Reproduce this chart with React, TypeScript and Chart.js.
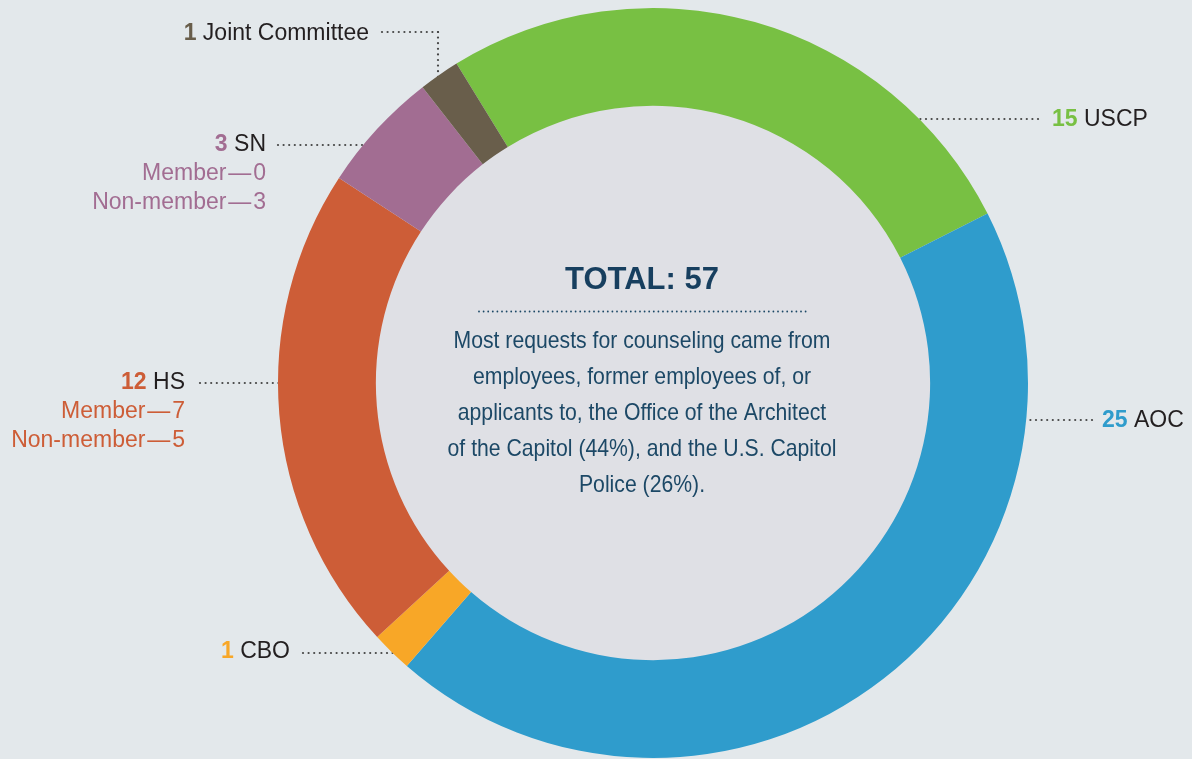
import React, { useEffect, useRef } from "react";
import { Chart, registerables } from "chart.js";

Chart.register(...registerables);

// ---- data ----
const categories = ["USCP", "AOC", "CBO", "HS", "SN", "Joint Committee"];
const counts = [15, 25, 1, 12, 3, 1];
const sliceColors = ["#78c043", "#2f9ccc", "#f8a727", "#cd5d37", "#a26d92", "#695e4b"];
const hsBreakdown = [7, 5]; // Member, Non-member
const snBreakdown = [0, 3]; // Member, Non-member
const breakdownLabels = ["Member", "Non-member"];
const totalTitle = "TOTAL: 57";
const centerLines = [
  "Most requests for counseling came from",
  "employees, former employees of, or",
  "applicants to, the Office of the Architect",
  "of the Capitol (44%), and the U.S. Capitol",
  "Police (26%).",
];

// ---- label layout (positions only) ----
type LabelLayout = {
  idx: number;
  side: "left" | "right";
  x: number; // text anchor x
  y: number; // baseline
  leaderY: number;
  leaderX: number; // leader start x
  elbowX?: number; // vertical leader x
  sub?: number[];
};
const layout: LabelLayout[] = [
  { idx: 0, side: "right", x: 1052, y: 126, leaderY: 119, leaderX: 1038 },
  { idx: 1, side: "right", x: 1102, y: 427, leaderY: 420, leaderX: 1092 },
  { idx: 2, side: "left", x: 290, y: 658, leaderY: 653, leaderX: 303 },
  { idx: 3, side: "left", x: 185, y: 389, leaderY: 383, leaderX: 200, sub: hsBreakdown },
  { idx: 4, side: "left", x: 266, y: 151, leaderY: 145, leaderX: 278, sub: snBreakdown },
  { idx: 5, side: "left", x: 369, y: 40, leaderY: 32, leaderX: 382, elbowX: 438 },
];

const LABEL_FONT = "'Liberation Sans', Arial, Helvetica, sans-serif";

function dots(ctx: CanvasRenderingContext2D, x1: number, y1: number, x2: number, y2: number, step: number, r: number, color: string) {
  const len = Math.hypot(x2 - x1, y2 - y1);
  const n = Math.floor(len / step);
  ctx.fillStyle = color;
  for (let i = 0; i <= n; i++) {
    const t = n === 0 ? 0 : (i * step) / len;
    ctx.beginPath();
    ctx.arc(x1 + (x2 - x1) * t, y1 + (y2 - y1) * t, r, 0, Math.PI * 2);
    ctx.fill();
  }
}

const decorPlugin = {
  id: "decor",
  beforeDatasetsDraw(chart: any) {
    const ctx: CanvasRenderingContext2D = chart.ctx;
    const arc = chart.getDatasetMeta(0).data[0];
    if (!arc) return;
    const cx = arc.x, cy = arc.y, R = arc.outerRadius, r = arc.innerRadius;
    ctx.save();
    ctx.fillStyle = "#dfe0e5";
    ctx.beginPath();
    ctx.arc(cx, cy, r + 2, 0, Math.PI * 2);
    ctx.fill();
    const leaderColor = "#444444";
    for (const l of layout) {
      if (l.elbowX !== undefined) {
        dots(ctx, l.leaderX, l.leaderY, l.elbowX, l.leaderY, 5.6, 1.1, leaderColor);
        const yEnd = cy - Math.sqrt(R * R - (l.elbowX - cx) ** 2) + 4;
        dots(ctx, l.elbowX, l.leaderY, l.elbowX, yEnd, 5.6, 1.1, leaderColor);
      } else {
        const dx = Math.sqrt(Math.max(0, R * R - (l.leaderY - cy) ** 2));
        const xEnd = l.side === "left" ? cx - dx + 4 : cx + dx - 4;
        dots(ctx, l.leaderX, l.leaderY, xEnd, l.leaderY, 5.6, 1.1, leaderColor);
      }
    }
    ctx.restore();
  },
  afterDatasetsDraw(chart: any) {
    const ctx: CanvasRenderingContext2D = chart.ctx;
    ctx.save();
    ctx.textBaseline = "alphabetic";
    for (const l of layout) {
      const num = String(counts[l.idx]);
      const name = " " + categories[l.idx];
      const color = sliceColors[l.idx];
      ctx.font = `bold 23px ${LABEL_FONT}`;
      const wNum = ctx.measureText(num).width;
      ctx.font = `23px ${LABEL_FONT}`;
      const wName = ctx.measureText(name).width;
      const x0 = l.side === "left" ? l.x - wNum - wName : l.x;
      ctx.textAlign = "left";
      ctx.font = `bold 23px ${LABEL_FONT}`;
      ctx.fillStyle = color;
      ctx.fillText(num, x0, l.y);
      ctx.font = `23px ${LABEL_FONT}`;
      ctx.fillStyle = "#231f20";
      ctx.fillText(name, x0 + wNum, l.y);
      if (l.sub) {
        ctx.textAlign = "right";
        ctx.font = `23px ${LABEL_FONT}`;
        ctx.fillStyle = color;
        l.sub.forEach((v, i) => {
          ctx.fillText(`${breakdownLabels[i]}\u200A\u2014\u200A${v}`, l.x, l.y + 29 * (i + 1));
        });
      }
    }
    // center text
    const tx = 642;
    ctx.textAlign = "center";
    ctx.fillStyle = "#173f5f";
    ctx.font = `bold 31px ${LABEL_FONT}`;
    ctx.fillText(totalTitle, tx, 289);
    dots(ctx, 479, 311.5, 806, 311.5, 4.6, 0.9, "#1c4866");
    ctx.fillStyle = "#1c4866";
    ctx.font = `24px ${LABEL_FONT}`;
    const w1 = ctx.measureText(centerLines[0]).width;
    const sx = 377 / w1;
    centerLines.forEach((line, i) => {
      ctx.save();
      ctx.translate(tx, 348 + i * 36);
      ctx.scale(sx, 1);
      ctx.fillText(line, 0, 0);
      ctx.restore();
    });
    ctx.restore();
  },
};

export default function App() {
  const ref = useRef<HTMLCanvasElement>(null);
  useEffect(() => {
    if (!ref.current) return;
    const chart = new Chart(ref.current, {
      type: "doughnut",
      data: {
        labels: categories,
        datasets: [
          {
            data: counts,
            backgroundColor: sliceColors,
            borderWidth: 0,
            hoverOffset: 0,
          },
        ],
      },
      options: {
        responsive: false,
        animation: false,
        rotation: -31.6,
        cutout: "73.9%",
        layout: { padding: { left: 278, right: 164, top: 8, bottom: 1 } },
        plugins: {
          legend: { display: false },
          tooltip: { enabled: false },
        },
        events: [],
      },
      plugins: [decorPlugin],
    });
    return () => chart.destroy();
  }, []);
  return (
    <div style={{ position: "fixed", left: 0, top: 0, width: 1192, height: 759, background: "#e3e8eb" }}>
      <canvas ref={ref} width={1192} height={759} style={{ display: "block", width: 1192, height: 759 }} />
    </div>
  );
}
